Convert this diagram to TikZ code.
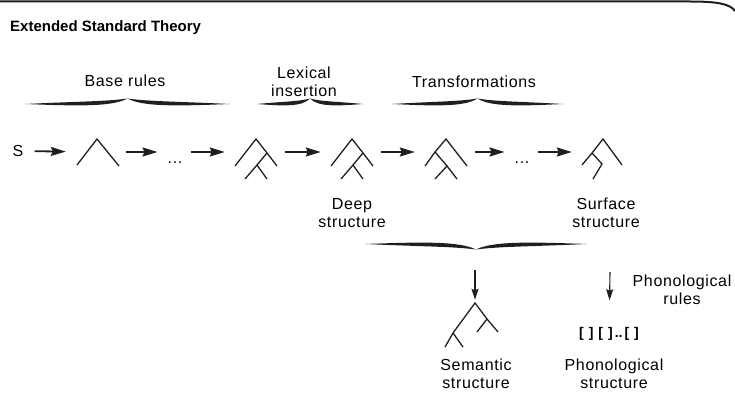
\documentclass[tikz,border=0pt]{standalone}
\usepackage{fontspec}
\setmainfont{Liberation Sans}
\newfontfamily\lblfont[LetterSpace=4]{Liberation Sans}
\usepackage{tikz}
\usetikzlibrary{arrows.meta, positioning}
\colorlet{ink}{black!88}
\tikzset{
  treebox/.style={inner sep=0pt, minimum width=42pt, minimum height=26pt},
  dotsbox/.style={inner sep=0pt, text height=24pt, text depth=0pt,
    font=\lblfont\fontsize{16}{18}\selectfont},
  lbl/.style={font=\lblfont\fontsize{16}{18}\selectfont, align=center, inner sep=0pt},
  flow/.style={draw, ink, line width=1.8pt,
    -{Stealth[length=15pt, width=9pt, inset=2pt]},
    shorten >=10pt, shorten <=8pt},
  drop/.style={draw, ink, line width=1.1pt,
    -{Stealth[length=11pt, width=7pt, inset=1.5pt]}},
  branch/.style={draw, ink, line width=1.3pt},
  treeA/.pic={\draw[branch] (-20,13) -- (0,-13) -- (22,14);},
  treeB/.pic={\draw[branch] (-21,14) -- (0,-13) -- (11,1) -- (21,14);
    \draw[branch] (11,1) -- (1,13);
    \draw[branch] (-11,27) -- (1,13) -- (11,27);},
  treeC/.pic={\draw[branch] (21,14) -- (0,-13) -- (-11,0) -- (-21,14);
    \draw[branch] (-11,0) -- (1,14);
    \draw[branch] (-11,27) -- (1,14) -- (11,27);},
  treeD/.pic={\draw[branch] (19,13) -- (0,-13) -- (-11,1) -- (-21,13);
    \draw[branch] (-11,1) -- (-1,12) -- (-10,27);},
  treeE/.pic={\draw[branch] (-30,22) -- (-22,8) -- (0,-22) -- (12,-6) -- (23,7);
    \draw[branch] (-22,8) -- (-12,22);
    \draw[branch] (12,-6) -- (2,7);},
}
% curly brace: left x, right x, y, side of the label (-1 above, 1 below)
\newcommand{\wbrace}[4]{%
  \pgfmathsetmacro{\wbm}{(#1+#2)/2}
  \pgfmathsetmacro{\wbl}{(#2-#1)/2}
  \fill[ink] ({#1},{#3-(#4)*1})
    .. controls ({#1+0.5*\wbl},{#3+(#4)*1.5}) and ({\wbm-0.2*\wbl},{#3+(#4)*1.5}) .. ({\wbm},{#3+(#4)*4.5})
    .. controls ({\wbm+0.2*\wbl},{#3+(#4)*1.5}) and ({#2-0.5*\wbl},{#3+(#4)*1.5}) .. ({#2},{#3-(#4)*1})
    .. controls ({#2-0.5*\wbl},{#3-(#4)*3}) and ({\wbm+0.15*\wbl},{#3-(#4)*4}) .. ({\wbm},{#3+(#4)*4.5})
    .. controls ({\wbm-0.15*\wbl},{#3-(#4)*4}) and ({#1+0.5*\wbl},{#3-(#4)*3}) .. cycle;}

\begin{document}
\begin{tikzpicture}[x=1pt, y=-1pt]
  \useasboundingbox (0,0) rectangle (735,403);
  \draw[ink, line width=2pt] (0,1.5) -- (690,1.5) .. controls (718,1.5) and (730,4) .. (735,11);
  \node[anchor=base west, inner sep=0pt, font=\fontsize{15}{17}\selectfont\bfseries]
    (title) at (10,32) {Extended Standard Theory};

  % stages
  \node[lbl] (base)  at (125,81) {Base rules};
  \node[lbl] (lex)   at (304,82) {Lexical\\insertion};
  \node[lbl] (trans) at (474,82) {Transformations};
  \wbrace{25}{230}{103}{-1}
  \wbrace{257}{363}{103}{-1}
  \wbrace{392}{563}{103}{-1}

  % derivation
  \node[lbl, inner sep=3pt] (s) at (18,151) {S};
  \node[treebox] (t1) at (97,152) {};
  \node[dotsbox] (d1) at (175,152) {...};
  \node[treebox] (t2) at (256,152) {};
  \node[treebox] (t3) at (352,152) {};
  \node[treebox] (t4) at (446,152) {};
  \node[dotsbox] (d2) at (522,152) {...};
  \node[treebox] (t5) at (603,152) {};
  \pic at (t1) {treeA};
  \pic at (t2) {treeB};
  \pic at (t3) {treeB};
  \pic at (t4) {treeC};
  \pic at (t5) {treeD};
  \draw[flow] (s) -- (t1);
  \draw[flow] (t1) -- (d1);
  \draw[flow] (d1) -- (t2);
  \draw[flow] (t2) -- (t3);
  \draw[flow] (t3) -- (t4);
  \draw[flow] (t4) -- (d2);
  \draw[flow] (d2) -- (t5);

  \node[lbl] (deep) at (352,213) {Deep\\structure};
  \node[lbl] (surf) at (606,213) {Surface\\structure};
  \wbrace{365}{587}{245}{1}

  % interpretation
  \coordinate (semtop) at (475,270);
  \node[treebox, minimum width=53pt, minimum height=44pt] (sem) at (475,325) {};
  \pic at (sem) {treeE};
  \draw[drop, shorten >=3pt] (semtop) -- (sem);
  \node[lbl] (semlbl) at (476,374) {Semantic\\structure};

  \coordinate (phontop) at (610,272);
  \node[inner sep=0pt, font=\fontsize{14}{16}\selectfont\bfseries]
    (phon) at (609,334) {[\hspace{5pt}]\hspace{5pt}[\hspace{5pt}]\hspace{2pt}..\hspace{2pt}[\hspace{5pt}]};
  \draw[drop, shorten >=27pt] (phontop) -- (phon);
  \node[lbl] (rules) at (682,290) {Phonological\\rules};
  \node[lbl] (phonlbl) at (614,374) {Phonological\\structure};
\end{tikzpicture}
\end{document}
